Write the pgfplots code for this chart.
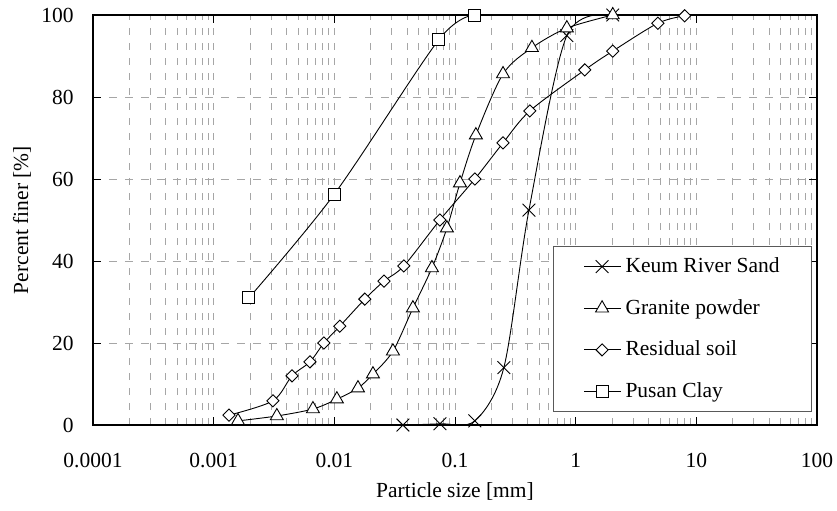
\documentclass[border=0pt]{standalone}
\usepackage{fontspec}
\setmainfont{Liberation Serif}
\usepackage{pgfplots}
\pgfplotsset{compat=1.18}
\begin{document}
\fontsize{21.5bp}{25bp}\selectfont
\begin{tikzpicture}
\useasboundingbox (-93bp,-86bp) rectangle (744bp,425bp);
\begin{axis}[
  at={(0,0)}, anchor=south west,
  scale only axis, width=724bp, height=410bp,
  xmode=log, log basis x=10,
  xmin=1e-4, xmax=100, ymin=0, ymax=100,
  xtick={1e-4,1e-3,0.01,0.1,1,10,100},
  xticklabels={0.0001,0.001,0.01,0.1,1,10,100},
  minor xtick={2e-4,3e-4,4e-4,5e-4,6e-4,7e-4,8e-4,9e-4,
    2e-3,3e-3,4e-3,5e-3,6e-3,7e-3,8e-3,9e-3,
    0.02,0.03,0.04,0.05,0.06,0.07,0.08,0.09,
    0.2,0.3,0.4,0.5,0.6,0.7,0.8,0.9,
    2,3,4,5,6,7,8,9,
    20,30,40,50,60,70,80,90},
  ytick={0,20,40,60,80,100},
  /pgf/number format/assume math mode=true,
  tick align=inside, major tick length=8bp, minor tick length=0bp,
  tick style={black, line width=0.8bp},
  grid=both,
  major x grid style={gray!70, dash pattern=on 7bp off 8bp, line width=0.8bp},
  minor x grid style={gray!70, dash pattern=on 7bp off 8bp, line width=0.8bp},
  major y grid style={gray!70, dash pattern=on 8bp off 8bp, line width=0.8bp},
  axis line style={black, line width=1.2bp},
  xticklabel style={anchor=base, yshift=-42bp},
  yticklabel style={anchor=east, xshift=-12bp},
  xlabel={Particle size [mm]},
  ylabel={Percent finer [\%]},
  xlabel style={at={(axis description cs:0.5,-0.178)}, anchor=base},
  ylabel style={at={(axis description cs:-0.098,0.5)}, anchor=center},
  clip mode=individual,
  legend cell align=left,
  legend style={at={(1,0)}, anchor=south east, xshift=-5bp, yshift=13bp,
    draw=black!65, line width=0.8bp, inner xsep=30bp, inner ysep=9bp,
    row sep=19.5bp, column sep=3bp, nodes={inner sep=2bp}},
  legend image code/.code={\draw[mark repeat=2,mark phase=2,#1] plot coordinates {(0bp,0bp) (18bp,0bp) (36bp,0bp)};},
]
\addplot[black, line width=0.9bp, smooth, mark=x, mark size=9bp, mark options={solid, line width=0.9bp}]
  coordinates {(0.037,0) (0.075,0.3) (0.146,1) (0.254,14) (0.41,52.4) (0.845,95) (2.03,100)};
\addlegendentry{Keum River Sand}
\addplot[black, line width=0.9bp, smooth, mark=triangle*, mark size=7.5bp, mark options={solid, fill=white, line width=0.9bp}]
  coordinates {(0.00159,1) (0.00334,2.2) (0.00665,3.9) (0.0105,6.3) (0.0157,9) (0.0209,12.4) (0.0306,18) (0.0448,28.5) (0.0644,38.3) (0.0857,48) (0.11,59) (0.149,70.7) (0.25,85.6) (0.434,92) (0.845,96.8) (2.03,100)};
\addlegendentry{Granite powder}
\addplot[black, line width=0.9bp, smooth, mark=square*, mark size=4.3bp, mark options={solid, fill=white, rotate=45, line width=0.9bp}]
  coordinates {(0.00134,2.4) (0.0031,5.9) (0.00446,12) (0.00628,15.4) (0.0082,20) (0.0111,24.1) (0.0179,30.7) (0.0258,35.1) (0.0377,38.8) (0.075,50) (0.146,60) (0.25,68.8) (0.417,76.6) (1.19,86.6) (2.03,91.2) (4.8,98) (8.0,99.8)};
\addlegendentry{Residual soil}
\addplot[black, line width=0.9bp, smooth, mark=square*, mark size=6bp, mark options={solid, fill=white, line width=0.9bp}]
  coordinates {(0.00196,31) (0.01,56.3) (0.0736,94) (0.146,100)};
\addlegendentry{Pusan Clay}
\end{axis}
\end{tikzpicture}
\end{document}
